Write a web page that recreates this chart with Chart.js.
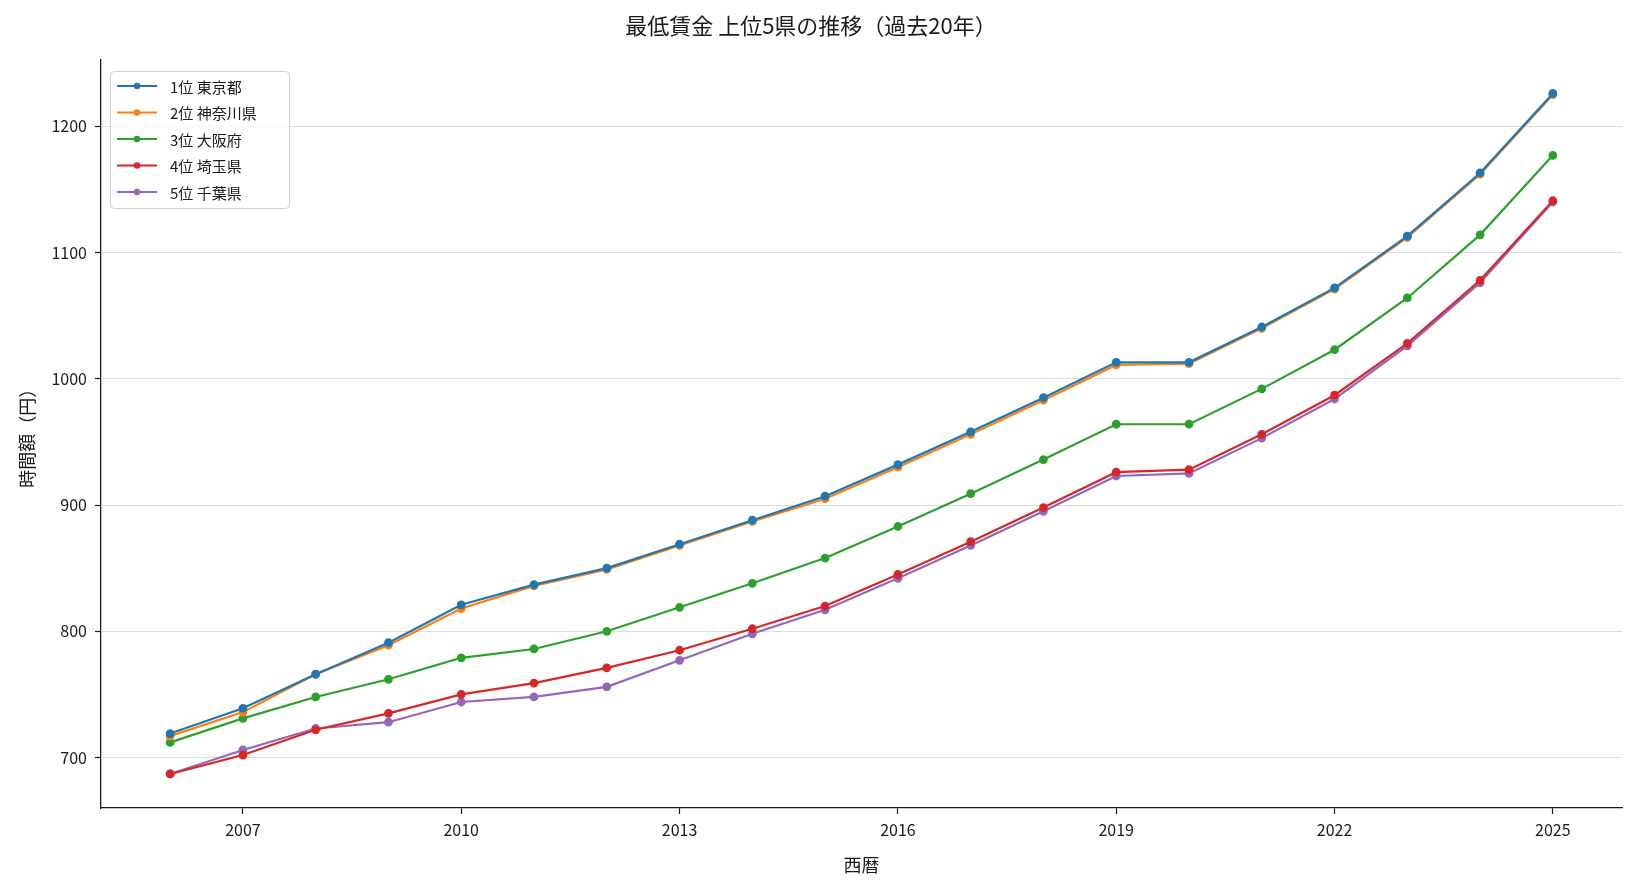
<!DOCTYPE html>
<html>
<head>
<meta charset="utf-8">
<script src="https://cdn.jsdelivr.net/npm/chart.js@4"></script>
<style>
  html, body { margin: 0; padding: 0; background: #fff; }
  #wrap { width: 1636px; height: 886px; }
</style>
</head>
<body>
<div id="wrap"><canvas id="myChart" width="1636" height="886"></canvas></div>
<script>
// 年ごとの最低賃金（円）
const years = [2006, 2007, 2008, 2009, 2010, 2011, 2012, 2013, 2014, 2015,
               2016, 2017, 2018, 2019, 2020, 2021, 2022, 2023, 2024, 2025];
const tokyo    = [719, 739, 766, 791, 821, 837, 850, 869, 888, 907, 932, 958, 985, 1013, 1013, 1041, 1072, 1113, 1163, 1226];
const kanagawa = [717, 736, 766, 789, 818, 836, 849, 868, 887, 905, 930, 956, 983, 1011, 1012, 1040, 1071, 1112, 1162, 1225];
const osaka    = [712, 731, 748, 762, 779, 786, 800, 819, 838, 858, 883, 909, 936, 964, 964, 992, 1023, 1064, 1114, 1177];
const saitama  = [687, 702, 722, 735, 750, 759, 771, 785, 802, 820, 845, 871, 898, 926, 928, 956, 987, 1028, 1078, 1141];
const chiba    = [687, 706, 723, 728, 744, 748, 756, 777, 798, 817, 842, 868, 895, 923, 925, 953, 984, 1026, 1076, 1140];

const seriesNames = ['1位 東京都', '2位 神奈川県', '3位 大阪府', '4位 埼玉県', '5位 千葉県'];
const seriesData = [tokyo, kanagawa, osaka, saitama, chiba];
const colors = ['#1f77b4', '#ff7f0e', '#2ca02c', '#d62728', '#9467bd'];
const xTicks = [2007, 2010, 2013, 2016, 2019, 2022, 2025];
const yTicks = [700, 800, 900, 1000, 1100, 1200];

const FONT = '"Noto Sans CJK JP", "Noto Sans", sans-serif';
const INK = '#1a1a1a';

const datasets = seriesNames.map((name, i) => ({
    label: name,
    data: years.map((y, j) => ({ x: y, y: seriesData[i][j] })),
    borderColor: colors[i],
    backgroundColor: colors[i],
    borderWidth: 2.2,
    pointRadius: 3.3,
    pointHoverRadius: 3.3,
    tension: 0,
}));

// 凡例をプロット内の左上に描く
const insideLegend = {
    id: 'insideLegend',
    afterDraw(chart) {
        const ctx = chart.ctx;
        const x0 = 110, y0 = 71, w = 179, h = 137;
        ctx.save();
        ctx.beginPath();
        ctx.roundRect(x0 + 0.5, y0 + 0.5, w, h, 4);
        ctx.fillStyle = 'rgba(255,255,255,0.8)';
        ctx.fill();
        ctx.strokeStyle = '#d0d0d0';
        ctx.lineWidth = 1;
        ctx.stroke();
        ctx.font = '15px ' + FONT;
        ctx.textBaseline = 'middle';
        seriesNames.forEach((name, i) => {
            const cy = 86 + i * 26.5;
            ctx.strokeStyle = colors[i];
            ctx.lineWidth = 2.2;
            ctx.beginPath();
            ctx.moveTo(117, cy);
            ctx.lineTo(157, cy);
            ctx.stroke();
            ctx.fillStyle = colors[i];
            ctx.beginPath();
            ctx.arc(137, cy, 3.3, 0, Math.PI * 2);
            ctx.fill();
            ctx.fillStyle = INK;
            ctx.fillText(name, 170, cy + 1);
        });
        ctx.restore();
    }
};

new Chart(document.getElementById('myChart'), {
    type: 'line',
    data: { datasets: datasets },
    options: {
        responsive: false,
        animation: false,
        layout: { padding: { left: 0, right: 14, top: 0, bottom: 0 } },
        plugins: {
            legend: { display: false },
            tooltip: { enabled: false },
            title: {
                display: true,
                text: '最低賃金 上位5県の推移（過去20年）',
                color: INK,
                font: { family: FONT, size: 22, weight: 'normal' },
                padding: { top: 12, bottom: 21 },
            },
        },
        scales: {
            x: {
                type: 'linear',
                min: 2005.05,
                max: 2025.95,
                afterBuildTicks(scale) {
                    scale.ticks = xTicks.map(v => ({ value: v }));
                },
                afterFit(scale) { scale.height = 78; },
                ticks: {
                    color: INK,
                    font: { family: FONT, size: 16 },
                    padding: 6,
                    maxRotation: 0,
                    callback: v => String(v),
                },
                grid: { drawOnChartArea: false, tickLength: 6, tickColor: INK, tickWidth: 1.2 },
                border: { color: INK, width: 1.3 },
                title: {
                    display: true,
                    text: '西暦',
                    color: INK,
                    font: { family: FONT, size: 18 },
                    padding: { top: 0, bottom: 10 },
                },
            },
            y: {
                type: 'linear',
                min: 660.05,
                max: 1252.95,
                afterBuildTicks(scale) {
                    scale.ticks = yTicks.map(v => ({ value: v }));
                },
                afterFit(scale) { scale.width = 101; },
                ticks: {
                    color: INK,
                    font: { family: FONT, size: 16 },
                    padding: 8,
                    callback: v => String(v),
                },
                grid: { color: '#dddddd', lineWidth: 1, tickLength: 6, tickColor: INK, tickWidth: 1.2 },
                border: { color: INK, width: 1.3 },
                title: {
                    display: true,
                    text: '時間額（円）',
                    color: INK,
                    font: { family: FONT, size: 18 },
                    padding: { top: 16, bottom: 0 },
                },
            },
        },
    },
    plugins: [insideLegend],
});
</script>
</body>
</html>
